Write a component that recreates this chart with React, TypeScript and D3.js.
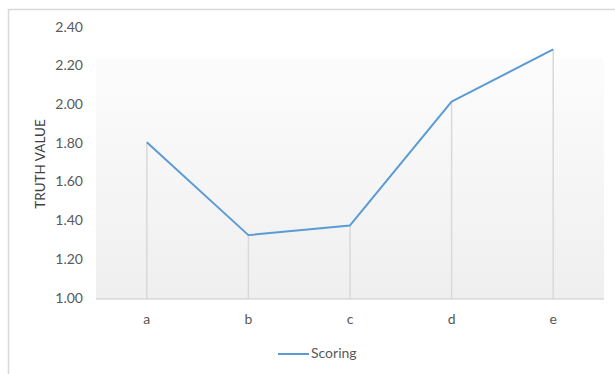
import * as d3 from "d3";
import { useMemo } from "react";

const W = 615;
const H = 374;
const M = { top: 28, right: 11, bottom: 75, left: 96 };

const categories = ["a", "b", "c", "d", "e"];
const scoring = [1.81, 1.33, 1.38, 2.02, 2.29];
const yTicks = [1.0, 1.2, 1.4, 1.6, 1.8, 2.0, 2.2, 2.4];
const seriesName = "Scoring";
const yTitle = "TRUTH VALUE";

const FONT = "Lato, Calibri, 'Open Sans', sans-serif";

export default function App() {
  const x = useMemo(
    () => d3.scaleBand().domain(categories).range([M.left, W - M.right]),
    [],
  );
  const y = useMemo(
    () => d3.scaleLinear().domain([1.0, 2.4]).range([H - M.bottom, M.top]),
    [],
  );
  const cx = (c: string) => (x(c) ?? 0) + x.bandwidth() / 2;

  const line = d3
    .line<number>()
    .x((_, i) => cx(categories[i]))
    .y((d) => y(d));

  const bottom = H - M.bottom;

  return (
    <svg
      width={W}
      height={H}
      style={{ position: "absolute", left: 0, top: 0 }}
      fontFamily={FONT}
    >
      <defs>
        <linearGradient id="plotbg" x1="0" y1="0" x2="0" y2="1">
          <stop offset="0%" stopColor="#fcfcfc" />
          <stop offset="100%" stopColor="#efefef" />
        </linearGradient>
      </defs>
      <rect x={0} y={0} width={W} height={H} fill="#ffffff" />
      {/* chart frame */}
      <rect
        x={8.5}
        y={9.5}
        width={W + 20}
        height={H + 20}
        fill="none"
        stroke="#d9d9d9"
        strokeWidth={1.5}
      />

      {/* plot background */}
      <rect
        x={M.left}
        y={58}
        width={W - M.right - M.left}
        height={bottom - 58}
        fill="url(#plotbg)"
      />

      {/* y tick labels */}
      {yTicks.map((t) => (
        <text
          key={t}
          x={83}
          y={y(t)}
          textAnchor="end"
          dominantBaseline="middle"
          fontSize={14}
          fill="#595959"
        >
          {t.toFixed(2)}
        </text>
      ))}

      {/* y axis title */}
      <text
        transform="translate(45,164) rotate(-90)"
        textAnchor="middle"
        fontSize={13.5}
        fill="#404040"
      >
        {yTitle}
      </text>

      {/* drop lines */}
      {categories.map((c, i) => (
        <line
          key={c}
          x1={cx(c)}
          x2={cx(c)}
          y1={y(scoring[i])}
          y2={bottom}
          stroke="#d9d9d9"
          strokeWidth={1.5}
        />
      ))}

      {/* baseline */}
      <line
        x1={M.left}
        x2={W - M.right}
        y1={bottom}
        y2={bottom}
        stroke="#d9d9d9"
        strokeWidth={1.5}
      />

      {/* series */}
      <path
        d={line(scoring) ?? ""}
        fill="none"
        stroke="#5b9bd5"
        strokeWidth={2}
        strokeLinejoin="round"
      />

      {/* x labels */}
      {categories.map((c) => (
        <text
          key={c}
          x={cx(c)}
          y={bottom + 21}
          textAnchor="middle"
          dominantBaseline="middle"
          fontSize={14}
          fill="#595959"
        >
          {c}
        </text>
      ))}

      {/* legend */}
      <line x1={278} x2={309} y1={354} y2={354} stroke="#5b9bd5" strokeWidth={2} />
      <text x={311} y={354} dominantBaseline="middle" fontSize={14} fill="#595959">
        {seriesName}
      </text>
    </svg>
  );
}
